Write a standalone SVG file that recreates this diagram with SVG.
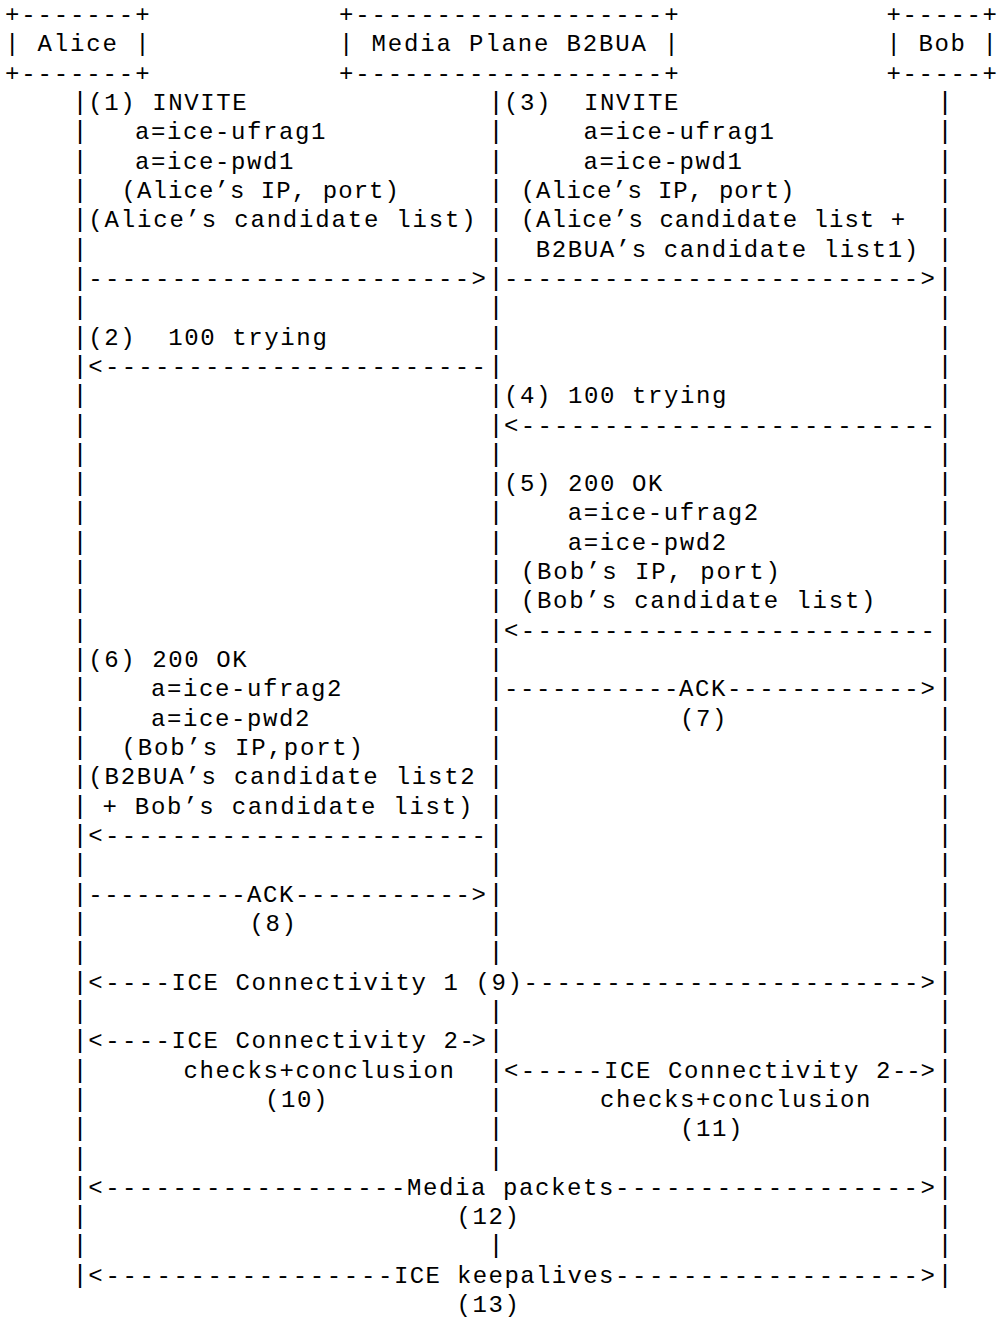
<svg xmlns="http://www.w3.org/2000/svg" width="998" height="1317" viewBox="0 0 998 1317" xml:space="preserve">
<style>
text { font-family: "Liberation Mono", "Courier New", monospace; font-size: 24px; letter-spacing: 1.6px; fill: #000; white-space: pre; }
.c { text-anchor: middle; }
.l { font-size: 26px; letter-spacing: 0; text-anchor: middle; }
</style>
<rect x="0" y="0" width="998" height="1317" fill="#fff"/>
<g id="alice">
<text x="4.9" y="22" textLength="146.25" lengthAdjust="spacing">+-------+</text>
<text x="4.9" y="51.3" textLength="146.25" lengthAdjust="spacing">| Alice |</text>
<text x="4.9" y="80.6" textLength="146.25" lengthAdjust="spacing">+-------+</text>
</g>
<g id="b2bua">
<text x="338.9" y="22" textLength="341.25" lengthAdjust="spacing">+-------------------+</text>
<text x="338.9" y="51.3" textLength="341.25" lengthAdjust="spacing">| Media Plane B2BUA |</text>
<text x="338.9" y="80.6" textLength="341.25" lengthAdjust="spacing">+-------------------+</text>
</g>
<g id="bob">
<text x="886.5" y="22" textLength="112" lengthAdjust="spacing">+-----+</text>
<text x="886.5" y="51.3" textLength="112" lengthAdjust="spacing">| Bob |</text>
<text x="886.5" y="80.6" textLength="112" lengthAdjust="spacing">+-----+</text>
</g>
<g id="lifelines">
<text class="l" x="80 80 80 80 80 80 80 80 80 80 80 80 80 80 80 80 80 80 80 80 80 80 80 80 80 80 80 80 80 80 80 80 80 80 80 80 80 80 80 80 80" y="110 139.3 168.6 197.9 227.2 256.6 285.9 315.2 344.5 373.8 403.2 432.5 461.8 491.1 520.4 549.8 579.1 608.4 637.7 667 696.4 725.7 755 784.3 813.6 843 872.3 901.6 930.9 960.2 989.6 1018.9 1048.2 1077.5 1106.8 1136.2 1165.5 1194.8 1224.1 1253.4 1282.8">|||||||||||||||||||||||||||||||||||||||||</text>
<text class="l" x="496 496 496 496 496 496 496 496 496 496 496 496 496 496 496 496 496 496 496 496 496 496 496 496 496 496 496 496 496 496" y="110 139.3 168.6 197.9 227.2 256.6 285.9 315.2 344.5 373.8 403.2 432.5 461.8 491.1 520.4 549.8 579.1 608.4 637.7 667 696.4 725.7 755 784.3 813.6 843 872.3 901.6 930.9 960.2">||||||||||||||||||||||||||||||</text>
<text class="l" x="496 496 496 496 496 496" y="1018.9 1048.2 1077.5 1106.8 1136.2 1165.5">||||||</text>
<text class="l" x="496" y="1253.4">|</text>
<text class="l" x="945 945 945 945 945 945 945 945 945 945 945 945 945 945 945 945 945 945 945 945 945 945 945 945 945 945 945 945 945 945 945 945 945 945 945 945 945 945 945 945 945" y="110 139.3 168.6 197.9 227.2 256.6 285.9 315.2 344.5 373.8 403.2 432.5 461.8 491.1 520.4 549.8 579.1 608.4 637.7 667 696.4 725.7 755 784.3 813.6 843 872.3 901.6 930.9 960.2 989.6 1018.9 1048.2 1077.5 1106.8 1136.2 1165.5 1194.8 1224.1 1253.4 1282.8">|||||||||||||||||||||||||||||||||||||||||</text>
</g>
<g id="connectors">
<text x="88.35" y="285.9" textLength="399.1" lengthAdjust="spacing">-----------------------&gt;</text>
<text x="504.1" y="285.9" textLength="432.4" lengthAdjust="spacing">-------------------------&gt;</text>
<text x="88.35" y="373.8" textLength="399.1" lengthAdjust="spacing">&lt;-----------------------</text>
<text x="504.1" y="432.5" textLength="432.4" lengthAdjust="spacing">&lt;-------------------------</text>
<text x="504.1" y="637.7" textLength="432.4" lengthAdjust="spacing">&lt;-------------------------</text>
<text x="504.1" y="696.4" textLength="176" lengthAdjust="spacing">-----------</text>
<text x="727" y="696.4" textLength="209.5" lengthAdjust="spacing">------------&gt;</text>
<text x="88.35" y="843" textLength="399.1" lengthAdjust="spacing">&lt;-----------------------</text>
<text x="88.35" y="901.6" textLength="159" lengthAdjust="spacing">----------</text>
<text x="295" y="901.6" textLength="192.5" lengthAdjust="spacing">-----------&gt;</text>
<text x="88.35" y="989.6" textLength="83.15" lengthAdjust="spacing">&lt;----</text>
<text x="523.5" y="989.6" textLength="413" lengthAdjust="spacing">------------------------&gt;</text>
<text x="88.35" y="1048.2" textLength="83.15" lengthAdjust="spacing">&lt;----</text>
<text x="459.5" y="1048.2" textLength="28" lengthAdjust="spacing">-&gt;</text>
<text x="504.1" y="1077.5" textLength="99.8" lengthAdjust="spacing">&lt;-----</text>
<text x="891.9" y="1077.5" textLength="44.6" lengthAdjust="spacing">--&gt;</text>
<text x="88.35" y="1194.8" textLength="318.6" lengthAdjust="spacing">&lt;------------------</text>
<text x="615" y="1194.8" textLength="321.5" lengthAdjust="spacing">------------------&gt;</text>
<text x="88.35" y="1282.8" textLength="305.6" lengthAdjust="spacing">&lt;-----------------</text>
<text x="615" y="1282.8" textLength="321.5" lengthAdjust="spacing">------------------&gt;</text>
</g>
<g id="labels">
<text x="88.35" y="110">(1) INVITE</text>
<text x="135" y="139.3">a=ice-ufrag1</text>
<text x="135" y="168.6">a=ice-pwd1</text>
<text x="121.6" y="197.9" textLength="279" lengthAdjust="spacing">(Alice’s IP, port)</text>
<text x="88.35" y="227.2" textLength="388.8" lengthAdjust="spacing">(Alice’s candidate list)</text>
<text x="504.1" y="110">(3)  INVITE</text>
<text x="583.5" y="139.3">a=ice-ufrag1</text>
<text x="583.5" y="168.6">a=ice-pwd1</text>
<text x="520.7" y="197.9" textLength="275.4" lengthAdjust="spacing">(Alice’s IP, port)</text>
<text x="520.7" y="227.2" textLength="386" lengthAdjust="spacing">(Alice’s candidate list +</text>
<text x="535.7" y="256.6">B2BUA’s candidate list1)</text>
<text x="88.35" y="344.5">(2)  100 trying</text>
<text x="504.1" y="403.2">(4) 100 trying</text>
<text x="504.1" y="491.1">(5) 200 OK</text>
<text x="567.7" y="520.4">a=ice-ufrag2</text>
<text x="567.7" y="549.8">a=ice-pwd2</text>
<text x="520.7" y="579.1" textLength="260.8" lengthAdjust="spacing">(Bob’s IP, port)</text>
<text x="520.7" y="608.4" textLength="356.4" lengthAdjust="spacing">(Bob’s candidate list)</text>
<text x="88.35" y="667">(6) 200 OK</text>
<text x="151" y="696.4">a=ice-ufrag2</text>
<text x="151" y="725.7">a=ice-pwd2</text>
<text x="121.6" y="755" textLength="243" lengthAdjust="spacing">(Bob’s IP,port)</text>
<text x="88.35" y="784.3" textLength="388" lengthAdjust="spacing">(B2BUA’s candidate list2</text>
<text x="102.4" y="813.6" textLength="371.5" lengthAdjust="spacing">+ Bob’s candidate list)</text>
<text x="679" y="696.4" textLength="48" lengthAdjust="spacing">ACK</text>
<text class="c" x="704" y="725.7">(7)</text>
<text x="247" y="901.6" textLength="48" lengthAdjust="spacing">ACK</text>
<text class="c" x="273.5" y="930.9">(8)</text>
<text x="171.5" y="989.6" textLength="352" lengthAdjust="spacing">ICE Connectivity 1 (9)</text>
<text x="171.5" y="1048.2" textLength="288" lengthAdjust="spacing">ICE Connectivity 2</text>
<text x="183.5" y="1077.5" textLength="272" lengthAdjust="spacing">checks+conclusion</text>
<text class="c" x="297" y="1106.8">(10)</text>
<text x="603.9" y="1077.5" textLength="288" lengthAdjust="spacing">ICE Connectivity 2</text>
<text x="600" y="1106.8" textLength="272" lengthAdjust="spacing">checks+conclusion</text>
<text class="c" x="712" y="1136.2">(11)</text>
<text x="407" y="1194.8" textLength="208" lengthAdjust="spacing">Media packets</text>
<text class="c" x="488.5" y="1224.1">(12)</text>
<text x="394" y="1282.8" textLength="221" lengthAdjust="spacing">ICE keepalives</text>
<text class="c" x="488.5" y="1312">(13)</text>
</g>
</svg>
